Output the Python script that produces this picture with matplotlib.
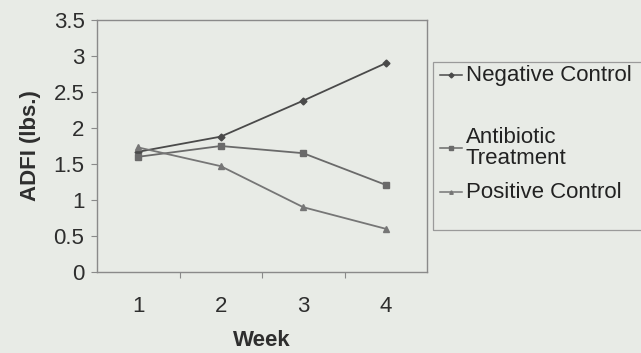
import matplotlib
matplotlib.use("Agg")
import matplotlib.pyplot as plt
from matplotlib.patches import Rectangle
from matplotlib.lines import Line2D

weeks = ["1", "2", "3", "4"]
negative_control = [1.67, 1.88, 2.38, 2.90]
antibiotic = [1.60, 1.75, 1.65, 1.21]
positive_control = [1.73, 1.47, 0.90, 0.60]
yticks = [0, 0.5, 1, 1.5, 2, 2.5, 3, 3.5]
ytick_labels = ["0", "0.5", "1", "1.5", "2", "2.5", "3", "3.5"]
series_names = ["Negative Control", "Antibiotic\nTreatment", "Positive Control"]

plt.rcParams['font.family'] = ['Liberation Sans', 'DejaVu Sans']
bg = "#e8ebe6"
W, H = 641, 353
fig = plt.figure(figsize=(W / 100, H / 100), dpi=100, facecolor=bg)
ax = fig.add_axes([97 / W, 1 - 272 / H, 330 / W, 252 / H], facecolor=bg)

colors = ["#4a4a4a", "#6a6a6a", "#767676"]
markers = ["D", "s", "^"]
msizes = [3.5, 4.5, 4.5]
x = range(len(weeks))
for vals, c, m, ms in zip([negative_control, antibiotic, positive_control], colors, markers, msizes):
    ax.plot(x, vals, color=c, lw=1.3, marker=m, ms=ms)

ax.set_xlim(-0.5, 3.5)
ax.set_ylim(0, 3.5)
ax.set_xticks([0.5, 1.5, 2.5])
ax.set_xticklabels([])
ax.set_xticks(list(x), minor=True)
ax.set_xticklabels(weeks, minor=True)
ax.tick_params(axis='x', which='minor', length=0, pad=17, labelsize=16, colors="#2e2e2e")
ax.tick_params(axis='x', which='major', length=4, direction='out', color="#8a8a8a")
ax.set_yticks(yticks)
ax.set_yticklabels(ytick_labels)
ax.tick_params(axis='y', length=4, direction='out', color="#8a8a8a", labelsize=16, labelcolor="#2e2e2e", pad=5)
for s in ax.spines.values():
    s.set_color("#8a8a8a")
    s.set_linewidth(1)

ax.set_xlabel("Week", fontsize=16, fontweight="bold", color="#2e2e2e", labelpad=10)
ax.set_ylabel("ADFI (lbs.)", fontsize=16, fontweight="bold", color="#2e2e2e", labelpad=9)

# legend drawn manually in figure pixel coordinates
def fx(px):
    return px / W

def fy(py):
    return 1 - py / H

fig.patches.append(Rectangle((fx(433), fy(230)), fx(660) - fx(433), fy(62) - fy(230),
                             transform=fig.transFigure, fill=False, edgecolor="#9a9a9a", lw=0.9))
entry_y = [75, 148, 192]
for name, c, m, ey in zip(series_names, colors, markers, entry_y):
    fig.add_artist(Line2D([fx(440), fx(462)], [fy(ey), fy(ey)], transform=fig.transFigure,
                          color=c, lw=1.1, marker=None))
    fig.add_artist(Line2D([fx(451)], [fy(ey)], transform=fig.transFigure,
                          color=c, marker=m, ms=2.5, lw=0))
    fig.text(fx(466), fy(ey), name, fontsize=16, color="#222222", va="center", ha="left",
             linespacing=1.0, multialignment="left")

fig.savefig("out.png", dpi=100, facecolor=bg)
